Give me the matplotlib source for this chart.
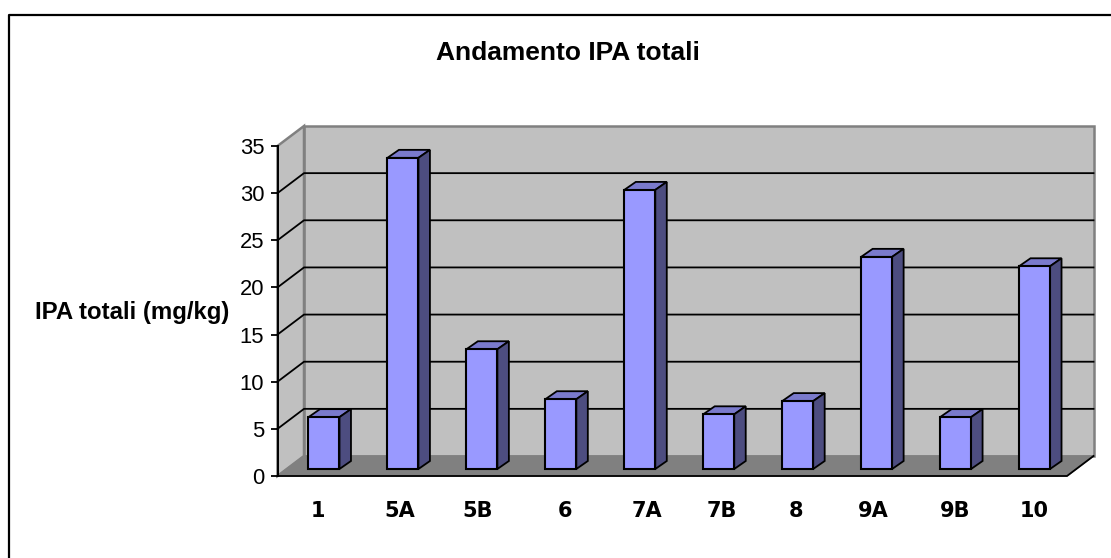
import matplotlib
matplotlib.use("Agg")
import matplotlib.pyplot as plt
from matplotlib.lines import Line2D
from matplotlib.patches import Polygon
from matplotlib.transforms import Affine2D

W, H = 1111, 558

categories = ["1", "5A", "5B", "6", "7A", "7B", "8", "9A", "9B", "10"]
values = [5.5, 33.0, 12.7, 7.4, 29.6, 5.8, 7.2, 22.5, 5.5, 21.5]
y_ticks = [0, 5, 10, 15, 20, 25, 30, 35]

WALL = "#c0c0c0"
FLOOR = "#808080"
EDGE = "#808080"
BAR = "#9999ff"
BAR_TOP = "#7a7acc"
BAR_SIDE = "#4d4d80"

# pixel sizes of the fake 3d look
DEPTH_X, DEPTH_Y = 26.5, 20
BAR_W = 31
BAR_DX, BAR_DY = 7, 7
BAR_DEPTH_X, BAR_DEPTH_Y = 11.5, 8

LEFT, RIGHT, BOTTOM, TOP = 277.5, 1067, 476, 146

# the category labels are not evenly spaced in the original
label_nudge = [1, 4, 3, 11, 14, 10, 5, 4, 7, 7]


def main():
    plt.rcParams["font.family"] = ["Liberation Sans", "DejaVu Sans"]
    fig = plt.figure(figsize=(W / 100, H / 100), dpi=100)
    fig.patch.set_facecolor("white")

    # chart border: only top and left are inside the crop
    fig.add_artist(Line2D([8.5 / W, 8.5 / W, 1111 / W], [0, 1 - 15 / H, 1 - 15 / H],
                          transform=fig.transFigure, color="black", lw=1.6))

    ax = fig.add_axes([LEFT / W, 1 - BOTTOM / H, (RIGHT - LEFT) / W, (BOTTOM - TOP) / H])
    ax.set_xlim(-0.5, len(categories) - 0.5)
    ax.set_ylim(0, 35)
    ax.patch.set_visible(False)
    for name in ["top", "right", "bottom"]:
        ax.spines[name].set_visible(False)
    ax.spines["left"].set_linewidth(1.4)
    ax.spines["left"].set_zorder(6)

    px_x = (len(categories)) / (RIGHT - LEFT)
    px_y = 35 / (BOTTOM - TOP)
    dx, dy = DEPTH_X * px_x, DEPTH_Y * px_y
    x0, x1 = -0.5, len(categories) - 0.5

    # walls and floor
    ax.add_patch(Polygon([(x0 + dx, dy), (x1 + dx, dy), (x1 + dx, 35 + dy), (x0 + dx, 35 + dy)],
                         closed=True, facecolor=WALL, edgecolor=EDGE, lw=1.8, clip_on=False, zorder=1))
    ax.add_patch(Polygon([(x0, 0), (x0 + dx, dy), (x0 + dx, 35 + dy), (x0, 35)],
                         closed=True, facecolor=WALL, edgecolor=EDGE, lw=1.8, clip_on=False, zorder=1))
    ax.add_patch(Polygon([(x0, 0), (x1, 0), (x1 + dx, dy), (x0 + dx, dy)],
                         closed=True, facecolor=FLOOR, edgecolor=EDGE, lw=1, clip_on=False, zorder=1))
    ax.plot([x0, x1, x1 + dx], [0, 0, dy], color="black", lw=1.3, clip_on=False, zorder=2)

    # gridlines on the back and side walls
    for t in y_ticks[1:-1]:
        ax.plot([x0, x0 + dx, x1 + dx], [t, t + dy, t + dy], color="black", lw=1.3, clip_on=False, zorder=2)

    # bars
    shift = ax.transData + Affine2D().translate(BAR_DX, BAR_DY)
    xs = list(range(len(categories)))
    ax.bar(xs, values, width=BAR_W * px_x, color=BAR, edgecolor="black", lw=1.5,
           transform=shift, zorder=5, clip_on=False)
    bw = BAR_W * px_x / 2
    ddx, ddy = BAR_DEPTH_X * px_x, BAR_DEPTH_Y * px_y
    for x, v in zip(xs, values):
        ax.add_patch(Polygon([(x - bw, v), (x + bw, v), (x + bw + ddx, v + ddy), (x - bw + ddx, v + ddy)],
                             closed=True, facecolor=BAR_TOP, edgecolor="black", lw=1.3,
                             transform=shift, clip_on=False, zorder=4))
        ax.add_patch(Polygon([(x + bw, 0), (x + bw + ddx, ddy), (x + bw + ddx, v + ddy), (x + bw, v)],
                             closed=True, facecolor=BAR_SIDE, edgecolor="black", lw=1.3,
                             transform=shift, clip_on=False, zorder=4))

    ax.set_yticks(y_ticks)
    ax.tick_params(axis="y", length=5, width=1.3, labelsize=15.8, pad=4.5)
    ax.set_xticks(xs)
    ax.set_xticklabels([])
    ax.tick_params(axis="x", length=0)
    for x, label, nudge in zip(xs, categories, label_nudge):
        ax.annotate(label, (x, 0), xytext=(nudge, -35), textcoords="offset pixels", ha="center", va="center",
                    family="DejaVu Sans", weight="bold", fontsize=15, annotation_clip=False)

    fig.text(567.5 / W, 1 - 53 / H, "Andamento IPA totali", ha="center", va="center", fontsize=19, weight="bold")
    fig.text(132 / W, 1 - 312 / H, "IPA totali (mg/kg)", ha="center", va="center", fontsize=17.3, weight="bold")

    fig.savefig("out.png", dpi=100)
    plt.close(fig)


if __name__ == "__main__":
    main()
